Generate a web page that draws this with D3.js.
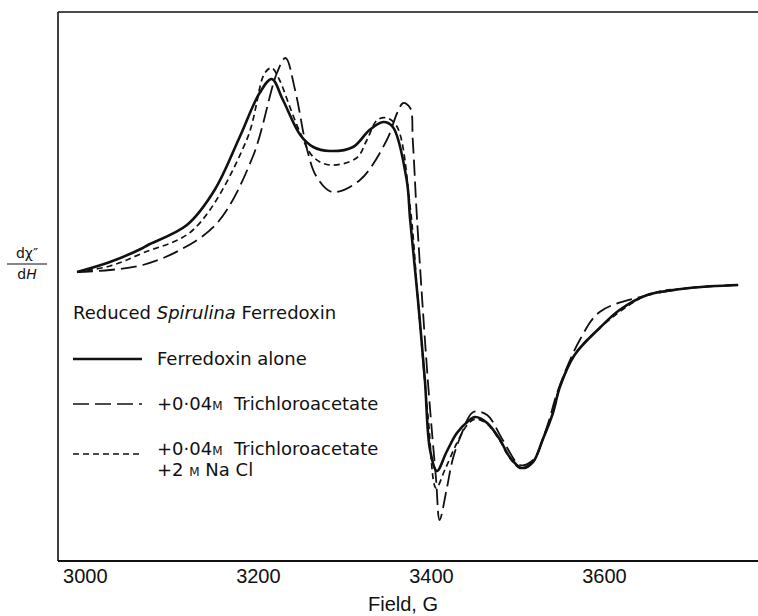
<!DOCTYPE html>
<html>
<head>
<meta charset="utf-8">
<script src="https://cdn.jsdelivr.net/npm/d3@7"></script>
<style>
  body { margin: 0; background: #fff; }
  svg text { font-family: "Liberation Sans", Arial, sans-serif; fill: #111; }
  .legend text, .ylab text { font-family: "DejaVu Sans", sans-serif; }
</style>
</head>
<body>
<div id="chart"></div>
<script>
// field (G) and signal (arbitrary units)
const aloneField  = [2991, 3029, 3067, 3073, 3118, 3150, 3179, 3202, 3216, 3229, 3249, 3264, 3283, 3310, 3329, 3345, 3356, 3372, 3376, 3385, 3393, 3399, 3407, 3418, 3430, 3442, 3451, 3465, 3480, 3491, 3505, 3518, 3529, 3541, 3549, 3566, 3595, 3618, 3650, 3699, 3755];
const aloneSignal = [0, 10, 24, 27, 47, 82, 135, 179, 193, 172, 137, 125, 121, 125, 142, 150, 145, 92, 52, -28, -108, -178, -199, -180, -161, -150, -145, -151, -168, -185, -196, -190, -168, -141, -115, -83, -56, -38, -23, -16, -13];

const tcaField  = [2991, 3029, 3067, 3110, 3153, 3194, 3222, 3232, 3243, 3257, 3268, 3286, 3318, 3349, 3361, 3368, 3376, 3379, 3384, 3397, 3406, 3410, 3418, 3425, 3434, 3449, 3465, 3483, 3503, 3518, 3534, 3547, 3572, 3595, 3642, 3699, 3755];
const tcaSignal = [0, 2, 7, 22, 49, 115, 199, 214, 182, 122, 95, 80, 92, 132, 159, 169, 164, 132, 52, -115, -208, -248, -218, -188, -165, -140, -143, -168, -193, -188, -155, -118, -68, -40, -25, -16, -13];

const naclField  = [2991, 3029, 3067, 3125, 3187, 3208, 3216, 3225, 3237, 3249, 3264, 3283, 3314, 3326, 3338, 3349, 3361, 3376, 3385, 3397, 3406, 3416, 3430, 3442, 3451, 3465, 3480, 3491, 3505, 3518, 3529, 3541, 3549, 3566, 3595, 3650, 3699, 3755];
const naclSignal = [0, 6, 19, 42, 132, 199, 204, 192, 165, 139, 115, 107, 114, 132, 152, 154, 145, 65, -28, -148, -216, -198, -171, -153, -147, -152, -169, -186, -197, -190, -168, -141, -115, -83, -56, -23, -16, -13];

const xTicks = [3000, 3200, 3400, 3600];
const legendTitle = ["Reduced ", "Spirulina", " Ferredoxin"];
const legendLabels = [
  ["Ferredoxin alone"],
  ["+0·04", "M", "  Trichloroacetate"],
  ["+0·04", "M", "  Trichloroacetate"]
];
const legendSecondLine = ["+2 ", "M", " Na Cl"];

const width = 758, height = 616;
const margin = { top: 12, right: 0, bottom: 55, left: 58 };

const svg = d3.select('#chart').append('svg')
  .attr('width', width)
  .attr('height', height);

const xScale = d3.scaleLinear()
  .domain([2969, 3778])
  .range([margin.left, width - margin.right]);

const yScale = d3.scaleLinear()
  .domain([-289, 260])
  .range([height - margin.bottom, margin.top]);

const line = d3.line()
  .x(d => xScale(d[0]))
  .y(d => yScale(d[1]))
  .curve(d3.curveCatmullRom.alpha(0.5));

const series = [
  { name: 'alone', field: aloneField, signal: aloneSignal, dash: null, width: 2.6 },
  { name: 'tca', field: tcaField, signal: tcaSignal, dash: '16,6', width: 1.8 },
  { name: 'nacl', field: naclField, signal: naclSignal, dash: '6,4', width: 1.7 }
];

// frame: top and left lines, bottom axis
svg.append('line')
  .attr('x1', margin.left).attr('x2', width)
  .attr('y1', margin.top).attr('y2', margin.top)
  .attr('stroke', '#111').attr('stroke-width', 1.6);
svg.append('line')
  .attr('x1', margin.left).attr('x2', margin.left)
  .attr('y1', margin.top).attr('y2', height - margin.bottom)
  .attr('stroke', '#111').attr('stroke-width', 1.6);

const xAxis = d3.axisBottom(xScale)
  .tickValues(xTicks)
  .tickSize(0)
  .tickPadding(8)
  .tickFormat(d3.format('d'));

const gx = svg.append('g')
  .attr('class', 'x axis')
  .attr('transform', `translate(0,${height - margin.bottom})`)
  .call(xAxis);
gx.select('.domain').attr('stroke', '#111').attr('stroke-width', 1.8)
  .attr('d', `M${margin.left},0H${width}`);
gx.selectAll('text')
  .attr('font-size', 20)
  .attr('font-family', '"Liberation Sans", Arial, sans-serif')
  .attr('fill', '#111');

svg.append('text')
  .attr('x', 403)
  .attr('y', 611)
  .attr('text-anchor', 'middle')
  .attr('font-size', 20)
  .text('Field, G');

// y label as a fraction
const yLab = svg.append('g').attr('class', 'ylab').attr('transform', 'translate(27,264)');
yLab.append('text').attr('y', -6).attr('text-anchor', 'middle').attr('font-size', 14).text('dχ″');
yLab.append('line').attr('x1', -20).attr('x2', 20).attr('stroke', '#111').attr('stroke-width', 1.2);
yLab.append('text').attr('y', 15).attr('text-anchor', 'middle').attr('font-size', 14)
  .html('d<tspan font-style="italic">H</tspan>');

// spectra
svg.selectAll('.spectrum')
  .data(series)
  .enter()
  .append('path')
  .attr('class', d => 'spectrum ' + d.name)
  .attr('d', d => line(d.field.map((f, i) => [f, d.signal[i]])))
  .attr('fill', 'none')
  .attr('stroke', '#111')
  .attr('stroke-width', d => d.width)
  .attr('stroke-dasharray', d => d.dash)
  .attr('stroke-linejoin', 'round');

// legend
const legend = svg.append('g').attr('class', 'legend');
const title = legend.append('text').attr('x', 73).attr('y', 319).attr('font-size', 18);
title.selectAll('tspan').data(legendTitle).enter().append('tspan')
  .attr('font-style', (d, i) => i === 1 ? 'italic' : null)
  .text(d => d);

const rowY = [359, 404, 454];
const rows = legend.selectAll('.row')
  .data(series)
  .enter()
  .append('g')
  .attr('class', 'row')
  .attr('transform', (d, i) => `translate(0,${rowY[i]})`);

rows.append('line')
  .attr('x1', 73).attr('x2', 142)
  .attr('stroke', '#111')
  .attr('stroke-width', d => d.width - 0.3)
  .attr('stroke-dasharray', d => d.dash);

const labels = rows.append('text')
  .attr('x', 157)
  .attr('y', (d, i) => i === 2 ? 1 : 6)
  .attr('font-size', 18);
labels.selectAll('tspan')
  .data((d, i) => legendLabels[i])
  .enter().append('tspan')
  .attr('font-size', (d, i) => i === 1 ? 12 : null)
  .attr('xml:space', 'preserve')
  .text(d => d);

const second = legend.append('text').attr('x', 157).attr('y', 476).attr('font-size', 18);
second.selectAll('tspan').data(legendSecondLine).enter().append('tspan')
  .attr('font-size', (d, i) => i === 1 ? 12 : null)
  .text(d => d);
</script>
</body>
</html>
